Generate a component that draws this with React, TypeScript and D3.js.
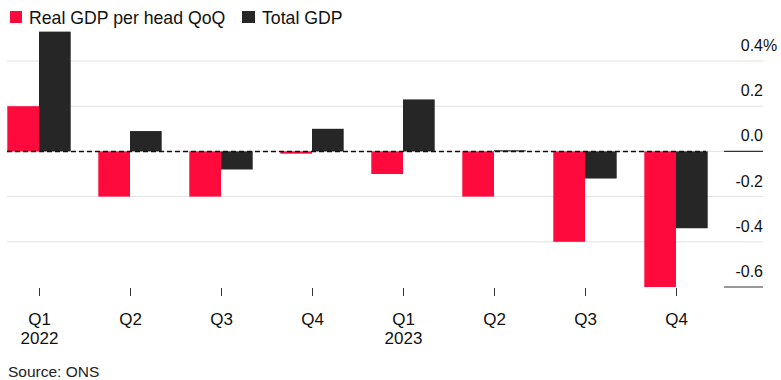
import React from "react";
import * as d3 from "d3";

const quarters = ["Q1", "Q2", "Q3", "Q4", "Q1", "Q2", "Q3", "Q4"];
const years = ["2022", "", "", "", "2023", "", "", ""];
const perHead = [0.2, -0.2, -0.2, -0.01, -0.1, -0.2, -0.4, -0.6];
const totalGdp = [0.53, 0.09, -0.08, 0.1, 0.23, 0.005, -0.12, -0.34];
const yTicks = [0.4, 0.2, 0.0, -0.2, -0.4, -0.6];
const seriesNames = ["Real GDP per head QoQ", "Total GDP"];

const W = 781;
const H = 380;
const RED = "#ff0a3c";
const DARK = "#262626";
const FONT = "'Liberation Sans', Arial, Helvetica, sans-serif";

export default function App() {
  const idx = quarters.map((_, i) => String(i));
  const x = d3.scaleBand<string>().domain(idx).range([-6.5, 721.5]).padding(0);
  const y = d3.scaleLinear().domain([-0.6, 0.4]).range([287, 61]);
  const barW = 31.7;
  const gridLeft = 7;
  const gridRight = 763;
  const zero = y(0);

  const bar = (v: number, x0: number, color: string, key: string) => {
    const y0 = Math.min(y(v), zero);
    const h = Math.abs(y(v) - zero);
    return <rect key={key} x={x0} y={y0} width={barW} height={h} fill={color} />;
  };

  return (
    <svg
      width={W}
      height={H}
      style={{ position: "absolute", left: 0, top: 0, background: "#fff" }}
      fontFamily={FONT}
    >
      {/* legend */}
      <rect x={10} y={11} width={12} height={12} fill={RED} />
      <text x={29} y={23.5} fontSize={17.7} fill="#111">{seriesNames[0]}</text>
      <rect x={242} y={11} width={13} height={12} fill={DARK} />
      <text x={262} y={23.5} fontSize={17.7} fill="#111">{seriesNames[1]}</text>

      {/* gridlines */}
      {yTicks.map((t) =>
        t === -0.6 ? null : (
          <line key={"g" + t} x1={gridLeft} x2={gridRight} y1={y(t)} y2={y(t)} stroke="#e2e2e2" strokeWidth={1} />
        )
      )}
      {/* dark segments under 0 and -0.6 labels */}
      {[0, -0.6].map((t) => (
        <line key={"d" + t} x1={724} x2={gridRight} y1={y(t)} y2={y(t)} stroke="#333" strokeWidth={1.2} />
      ))}

      {/* y labels */}
      {yTicks.map((t) => (
        <text key={"l" + t} x={gridRight} y={y(t) - 10} fontSize={16} fill="#111" textAnchor="end">
          {d3.format(".1f")(t).replace("−", "-")}
        </text>
      ))}
      <text x={gridRight} y={y(0.4) - 10} fontSize={16} fill="#111">%</text>

      {/* bars */}
      {idx.map((k, i) => {
        const c = (x(k) as number) + x.bandwidth() / 2;
        return (
          <g key={"b" + k}>
            {bar(perHead[i], c - barW, RED, "r" + k)}
            {bar(totalGdp[i], c, DARK, "k" + k)}
          </g>
        );
      })}

      {/* zero dashed line */}
      <line x1={gridLeft} x2={706} y1={zero} y2={zero} stroke="#111" strokeWidth={1.5} strokeDasharray="5,3" />

      {/* x ticks and labels */}
      {idx.map((k, i) => {
        const c = Math.round((x(k) as number) + x.bandwidth() / 2) + 0.5;
        return (
          <g key={"x" + k}>
            <line x1={c} x2={c} y1={288} y2={296} stroke="#333" strokeWidth={1} />
            <text x={c} y={325} fontSize={17} fill="#111" textAnchor="middle">{quarters[i]}</text>
            {years[i] && (
              <text x={c} y={344} fontSize={17} fill="#111" textAnchor="middle">{years[i]}</text>
            )}
          </g>
        );
      })}

      {/* source */}
      <text x={8} y={377} fontSize={15.5} fill="#222">Source: ONS</text>
    </svg>
  );
}
